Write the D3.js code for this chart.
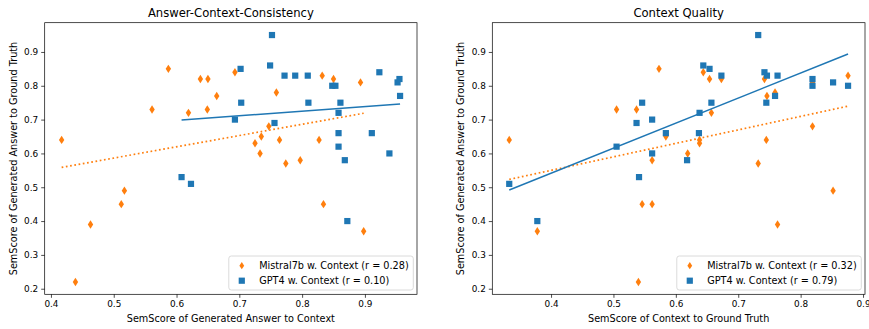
<!DOCTYPE html>
<html>
<head>
<meta charset="utf-8">
<script src="https://cdn.jsdelivr.net/npm/d3@7"></script>
<style>
  body { margin: 0; background: #fff; }
  svg { display: block; font-family: "DejaVu Sans", sans-serif; }
</style>
</head>
<body>
<svg id="chart" width="869" height="329"></svg>
<script>
// values
const yTicks = [0.2, 0.3, 0.4, 0.5, 0.6, 0.7, 0.8, 0.9];
const xTicksLeft = [0.4, 0.5, 0.6, 0.7, 0.8, 0.9];
const xTicksRight = [0.4, 0.5, 0.6, 0.7, 0.8, 0.9];

// Answer-Context-Consistency: x = SemScore answer vs context, y = answer vs ground truth
const mistralAccX = [0.417, 0.561, 0.587, 0.619, 0.638, 0.650, 0.649, 0.664, 0.693, 0.832, 0.850, 0.893, 0.759, 0.747,
  0.735, 0.725, 0.733, 0.764, 0.827, 0.774, 0.797, 0.517, 0.512, 0.463, 0.439, 0.834, 0.898];
const mistralAccY = [0.64, 0.73, 0.85, 0.72, 0.82, 0.82, 0.73, 0.77, 0.84, 0.83, 0.82, 0.81, 0.78, 0.68,
  0.65, 0.63, 0.60, 0.64, 0.64, 0.57, 0.58, 0.49, 0.45, 0.39, 0.22, 0.45, 0.37];
const gptAccX = [0.752, 0.702, 0.749, 0.772, 0.789, 0.809, 0.848, 0.853, 0.923, 0.952, 0.955, 0.703, 0.810,
  0.861, 0.956, 0.858, 0.693, 0.756, 0.858, 0.911, 0.858, 0.868, 0.939, 0.608, 0.623, 0.872];
const gptAccY = [0.95, 0.85, 0.86, 0.83, 0.83, 0.83, 0.80, 0.80, 0.84, 0.81, 0.82, 0.75, 0.75,
  0.75, 0.77, 0.72, 0.70, 0.69, 0.66, 0.66, 0.62, 0.58, 0.60, 0.53, 0.51, 0.40];

// Context Quality: x = SemScore context vs ground truth
const mistralCqX = [0.333, 0.505, 0.537, 0.573, 0.562, 0.584, 0.619, 0.644, 0.654, 0.673, 0.742, 0.746, 0.759,
  0.876, 0.657, 0.638, 0.638, 0.745, 0.819, 0.732, 0.378, 0.546, 0.562, 0.540, 0.852, 0.763, 0.819];
const mistralCqY = [0.64, 0.73, 0.73, 0.85, 0.58, 0.65, 0.60, 0.84, 0.82, 0.82, 0.82, 0.77, 0.78,
  0.83, 0.72, 0.64, 0.63, 0.64, 0.68, 0.57, 0.37, 0.45, 0.45, 0.22, 0.49, 0.39, 0.81];
const gptCqX = [0.546, 0.537, 0.562, 0.584, 0.505, 0.562, 0.618, 0.732, 0.644, 0.654, 0.673, 0.742, 0.746,
  0.763, 0.819, 0.819, 0.852, 0.876, 0.657, 0.745, 0.759, 0.638, 0.637, 0.333, 0.378, 0.541];
const gptCqY = [0.75, 0.69, 0.70, 0.66, 0.62, 0.60, 0.58, 0.95, 0.86, 0.85, 0.83, 0.84, 0.83,
  0.83, 0.82, 0.80, 0.81, 0.80, 0.75, 0.75, 0.77, 0.72, 0.66, 0.51, 0.40, 0.53];

const seriesNames = ['Mistral7b w. Context', 'GPT4 w. Context'];
const rAcc = ['0.28', '0.10'];
const rCq = ['0.32', '0.79'];

const orange = '#ff7f0e', blue = '#1f77b4';
const svg = d3.select('#chart');

function fit(xs, ys) {
  const mx = d3.mean(xs), my = d3.mean(ys);
  let sxy = 0, sxx = 0;
  xs.forEach((x, i) => { sxy += (x - mx) * (ys[i] - my); sxx += (x - mx) * (x - mx); });
  const b = sxy / sxx;
  return { b, a: my - b * mx };
}

function padded(vals) {
  const [lo, hi] = d3.extent(vals);
  const p = (hi - lo) * 0.05;
  return [lo - p, hi + p];
}

const diamond = (cx, cy, w, h) => `M${cx},${cy - h}L${cx + w},${cy}L${cx},${cy + h}L${cx - w},${cy}Z`;

function panel(opts) {
  const { left, right, top, bottom } = opts;
  const x = d3.scaleLinear().domain(padded(opts.mx.concat(opts.gx))).range([left, right]);
  const y = d3.scaleLinear().domain(padded(opts.my.concat(opts.gy))).range([bottom, top]);
  const g = svg.append('g');

  const clipId = 'clip' + Math.round(left);
  g.append('clipPath').attr('id', clipId).append('rect')
    .attr('x', left).attr('y', top).attr('width', right - left).attr('height', bottom - top);
  const plot = g.append('g').attr('clip-path', `url(#${clipId})`);

  // mistral: thin diamonds
  plot.append('g').selectAll('path').data(opts.mx).join('path')
    .attr('d', (d, i) => diamond(x(d), y(opts.my[i]), 2.7, 4.2))
    .attr('fill', orange);

  // gpt4: squares
  plot.append('g').selectAll('rect').data(opts.gx).join('rect')
    .attr('x', d => x(d) - 3.1)
    .attr('y', (d, i) => y(opts.gy[i]) - 3.1)
    .attr('width', 6.2).attr('height', 6.2)
    .attr('fill', blue);

  // regression lines over each series' x range
  const line = (xs, ys, color, width, dash) => {
    const f = fit(xs, ys);
    const [x0, x1] = d3.extent(xs);
    plot.append('line')
      .attr('x1', x(x0)).attr('y1', y(f.a + f.b * x0))
      .attr('x2', x(x1)).attr('y2', y(f.a + f.b * x1))
      .attr('stroke', color).attr('stroke-width', width)
      .attr('stroke-dasharray', dash);
  };
  line(opts.mx, opts.my, orange, 1.7, '1.7,2.6');
  line(opts.gx, opts.gy, blue, 1.5, null);

  // axes
  const xAxis = d3.axisBottom(x).tickValues(opts.xTicks).tickSize(3.5).tickPadding(3)
    .tickFormat(d3.format('.1f'));
  const yAxis = d3.axisLeft(y).tickValues(yTicks).tickSize(3.5).tickPadding(3)
    .tickFormat(d3.format('.1f'));
  const gx = g.append('g').attr('transform', `translate(0,${bottom})`).call(xAxis);
  const gy = g.append('g').attr('transform', `translate(${left},0)`).call(yAxis);
  [gx, gy].forEach(a => {
    a.select('.domain').remove();
    a.selectAll('line').attr('stroke', '#000').attr('stroke-width', 0.7);
    a.selectAll('text').attr('font-size', 8.9).attr('fill', '#000')
      .attr('font-family', '"DejaVu Sans", sans-serif');
  });

  g.append('rect').attr('x', left).attr('y', top)
    .attr('width', right - left).attr('height', bottom - top)
    .attr('fill', 'none').attr('stroke', '#000').attr('stroke-width', 0.7);

  g.append('text').attr('x', (left + right) / 2).attr('y', top - 5.4)
    .attr('text-anchor', 'middle').attr('font-size', 11.6).text(opts.title);
  g.append('text').attr('x', (left + right) / 2).attr('y', bottom + 28)
    .attr('text-anchor', 'middle').attr('font-size', 9.7).text(opts.xLabel);
  g.append('text')
    .attr('transform', `translate(${left - 28},${(top + bottom) / 2}) rotate(-90)`)
    .attr('text-anchor', 'middle').attr('font-size', 9.7).text(opts.yLabel);

  // legend, lower right
  const lg = g.append('g');
  const labels = seriesNames.map((n, i) => `${n} (r = ${opts.r[i]})`);
  const box = lg.append('rect');
  const texts = lg.selectAll('text').data(labels).join('text')
    .attr('font-size', 9.7).text(d => d);
  const tw = d3.max(texts.nodes(), n => n.getComputedTextLength());
  const bw = tw + 35, bh = 34;
  const bx = right - 3.7 - bw, by = bottom - 4.3 - bh;
  box.attr('x', bx).attr('y', by).attr('width', bw).attr('height', bh)
    .attr('rx', 2.5).attr('fill', 'rgba(255,255,255,0.8)')
    .attr('stroke', '#d0d0d0').attr('stroke-width', 0.8);
  const row0 = by + 9.7;
  texts.attr('x', bx + 30.4).attr('y', (d, i) => row0 + i * 15 + 3.5);
  const mxl = bx + 13;
  lg.append('path').attr('d', diamond(mxl, row0, 2.4, 3.6)).attr('fill', orange);
  lg.append('rect').attr('x', mxl - 3.1).attr('y', row0 + 15 - 3.1)
    .attr('width', 6.2).attr('height', 6.2).attr('fill', blue);
}

panel({
  left: 44.7, right: 417, top: 22.7, bottom: 294.3,
  mx: mistralAccX, my: mistralAccY, gx: gptAccX, gy: gptAccY,
  xTicks: xTicksLeft, r: rAcc,
  title: 'Answer-Context-Consistency',
  xLabel: 'SemScore of Generated Answer to Context',
  yLabel: 'SemScore of Generated Answer to Ground Truth'
});

panel({
  left: 492.3, right: 865, top: 22.7, bottom: 294.3,
  mx: mistralCqX, my: mistralCqY, gx: gptCqX, gy: gptCqY,
  xTicks: xTicksRight, r: rCq,
  title: 'Context Quality',
  xLabel: 'SemScore of Context to Ground Truth',
  yLabel: 'SemScore of Generated Answer to Ground Truth'
});
</script>
</body>
</html>
